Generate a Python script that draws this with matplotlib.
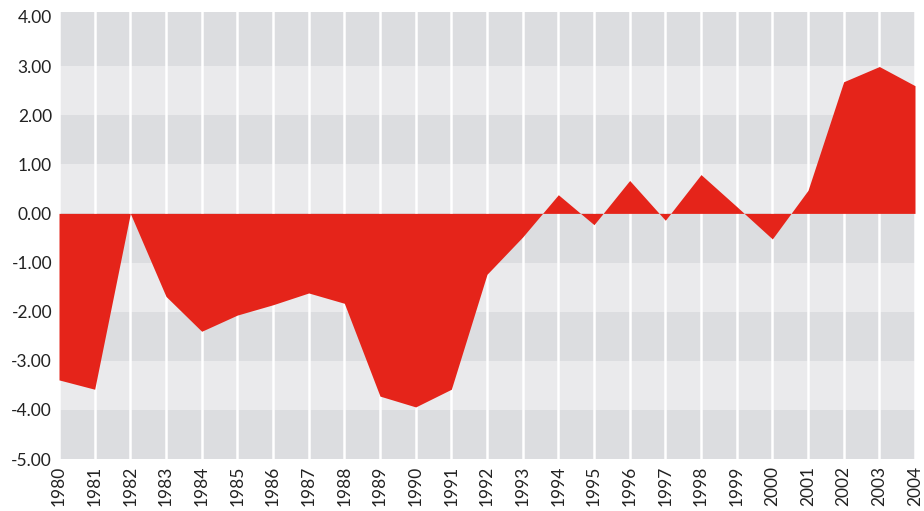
import matplotlib
matplotlib.use("Agg")
import matplotlib.pyplot as plt
import numpy as np

years = list(range(1980, 2005))
values = [-3.39, -3.58, 0.0, -1.69, -2.40, -2.07, -1.86, -1.62, -1.83, -3.72,
          -3.94, -3.58, -1.24, -0.48, 0.38, -0.23, 0.67, -0.14, 0.79, 0.14,
          -0.52, 0.47, 2.68, 2.99, 2.60]
y_ticks = [4, 3, 2, 1, 0, -1, -2, -3, -4, -5]

plt.rcParams['font.family'] = ['Lato', 'DejaVu Sans']

fig = plt.figure(figsize=(9.24, 5.11), dpi=100)
ax = fig.add_axes([59/924, 1-459/511, (915-59)/924, (459-12)/511])

dark = '#dcdde0'
light = '#eaeaec'
for lo in range(-5, 4):
    # 4..3 dark, 3..2 light, ... alternating
    c = dark if (3 - lo) % 2 == 0 else light
    ax.axhspan(lo, lo + 1 if lo < 3 else 4.1, color=c, lw=0, zorder=0)

for yr in years:
    ax.axvline(yr, color='white', lw=1.8, zorder=1)

ax.fill_between(years, values, 0, color='#e5241a', lw=0, zorder=2)

ax.set_xlim(1980, 2004)
ax.set_ylim(-5, 4.1)
ax.set_yticks(y_ticks)
ax.set_yticklabels([f"{v:.2f}" for v in y_ticks])
ax.set_xticks(years)
ax.set_xticklabels([str(y) for y in years], rotation=90)
ax.tick_params(length=0, labelsize=12.5, colors='#222222', pad=5)
for s in ax.spines.values():
    s.set_visible(False)

fig.savefig('out.png', dpi=100, facecolor='white')
